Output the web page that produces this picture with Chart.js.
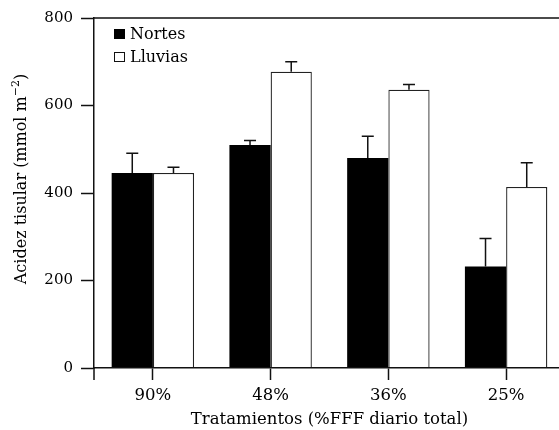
<!DOCTYPE html>
<html>
<head>
<meta charset="utf-8">
<script src="https://cdn.jsdelivr.net/npm/chart.js@4.4.1/dist/chart.umd.min.js"></script>
<style>
  html, body { margin: 0; padding: 0; background: #fff; overflow: hidden; }
  #wrap { width: 559px; height: 430px; overflow: hidden; }
</style>
</head>
<body>
<div id="wrap"><canvas id="chart" width="570" height="430"></canvas></div>
<script>
const categories = ['90%', '48%', '36%', '25%'];
const nortes = [446, 510, 480, 232];
const nortesErr = [45, 10, 50, 64];
const lluvias = [446, 677, 636, 414];
const lluviasErr = [13, 23, 12, 55];
const yTicks = [0, 200, 400, 600, 800];

const FONT = "'DejaVu Serif', serif";
const INK = '#000';
const LINE = '#111';

// upper error bars, one per bar
const errorBars = {
    id: 'errorBars',
    afterDatasetsDraw(chart) {
        const { ctx } = chart;
        const y = chart.scales.y;
        ctx.save();
        ctx.strokeStyle = LINE;
        ctx.lineWidth = 1.5;
        chart.data.datasets.forEach((ds, i) => {
            chart.getDatasetMeta(i).data.forEach((bar, j) => {
                const top = y.getPixelForValue(ds.data[j] + ds.errors[j]);
                ctx.beginPath();
                ctx.moveTo(bar.x, bar.y);
                ctx.lineTo(bar.x, top);
                ctx.moveTo(bar.x - 6, top);
                ctx.lineTo(bar.x + 6, top);
                ctx.stroke();
            });
        });
        ctx.restore();
    },
};

// top frame line, y axis stub below the x axis, legend and y title
const decorations = {
    id: 'decorations',
    afterDraw(chart) {
        const { ctx, chartArea: a } = chart;
        ctx.save();
        ctx.strokeStyle = LINE;
        ctx.lineWidth = 1.5;
        ctx.beginPath();
        ctx.moveTo(a.left, a.top);
        ctx.lineTo(a.right + 10, a.top);
        ctx.moveTo(a.left, a.bottom);
        ctx.lineTo(a.left, a.bottom + 12);
        ctx.stroke();

        // legend
        ctx.font = '16px ' + FONT;
        ctx.textBaseline = 'alphabetic';
        const rows = [39, 62];
        chart.data.datasets.forEach((ds, i) => {
            const base = rows[i];
            ctx.fillStyle = ds.backgroundColor;
            ctx.fillRect(114, base - 10, 11, 10);
            if (ds.borderWidth) {
                ctx.lineWidth = 1;
                ctx.strokeStyle = LINE;
                ctx.strokeRect(114.5, base - 9.5, 10, 9);
            }
            ctx.fillStyle = INK;
            ctx.fillText(ds.label, 130, base);
        });

        // y title with superscript
        ctx.translate(26, 179);
        ctx.rotate(-Math.PI / 2);
        const main = 'Acidez tisular (mmol m';
        const sup = '\u22122';
        const close = ')';
        ctx.font = '16px ' + FONT;
        const wMain = ctx.measureText(main).width;
        const wClose = ctx.measureText(close).width;
        ctx.font = '11px ' + FONT;
        const wSup = ctx.measureText(sup).width;
        let x = -(wMain + wSup + wClose) / 2;
        ctx.font = '16px ' + FONT;
        ctx.fillText(main, x, 0);
        x += wMain;
        ctx.font = '11px ' + FONT;
        ctx.fillText(sup, x, -7);
        x += wSup;
        ctx.font = '16px ' + FONT;
        ctx.fillText(close, x, 0);
        ctx.restore();
    },
};

new Chart(document.getElementById('chart'), {
    type: 'bar',
    data: {
        labels: categories,
        datasets: [{
            label: 'Nortes',
            data: nortes,
            errors: nortesErr,
            backgroundColor: '#000',
            borderWidth: 0,
        }, {
            label: 'Lluvias',
            data: lluvias,
            errors: lluviasErr,
            backgroundColor: '#fff',
            borderColor: '#222',
            borderWidth: 1.3,
        }],
    },
    options: {
        responsive: false,
        animation: false,
        categoryPercentage: 0.7,
        barPercentage: 1.0,
        layout: { padding: { top: 18, right: 5, left: 0, bottom: 0 } },
        plugins: {
            legend: { display: false },
            tooltip: { enabled: false },
        },
        scales: {
            x: {
                afterFit: s => { s.height = 62; },
                grid: {
                    offset: false,
                    drawOnChartArea: false,
                    tickLength: 12,
                    tickColor: LINE,
                    tickWidth: 1.5,
                },
                border: { color: LINE, width: 1.5, z: 1 },
                ticks: { color: INK, padding: 6, font: { family: FONT, size: 16.5 }, maxRotation: 0 },
                title: {
                    display: true,
                    text: 'Tratamientos (%FFF diario total)',
                    color: INK,
                    font: { family: FONT, size: 16.5 },
                    padding: 0,
                },
            },
            y: {
                min: 0,
                max: 800,
                afterFit: s => { s.width = 94; },
                afterBuildTicks: s => { s.ticks = yTicks.map(v => ({ value: v })); },
                grid: {
                    drawOnChartArea: false,
                    tickLength: 13,
                    tickColor: LINE,
                    tickWidth: 1.5,
                },
                border: { color: LINE, width: 1.5, z: 1 },
                ticks: { color: INK, padding: 8, font: { family: FONT, size: 15 } },
            },
        },
    },
    plugins: [errorBars, decorations],
});
</script>
</body>
</html>
